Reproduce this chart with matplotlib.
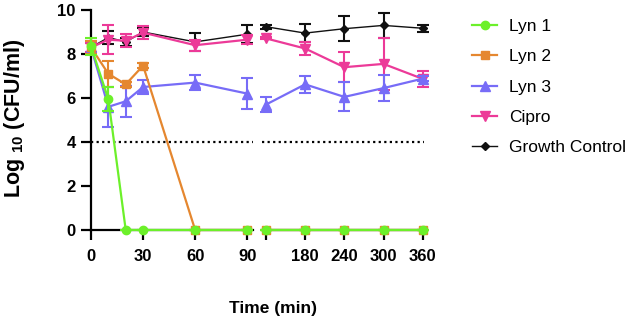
import numpy as np
import matplotlib
matplotlib.use("Agg")
import matplotlib.pyplot as plt

plt.rcParams['font.family'] = ['Liberation Sans', 'DejaVu Sans']
plt.rcParams['mathtext.fontset'] = 'custom'
plt.rcParams['mathtext.rm'] = 'Liberation Sans:bold'
plt.rcParams['mathtext.it'] = 'Liberation Sans:bold'
plt.rcParams['mathtext.bf'] = 'Liberation Sans:bold'

# time points (min), axis is broken between 90 and 120
time = np.array([0, 10, 20, 30, 60, 90, 120, 180, 240, 300, 360])

lyn1 = [8.35, 5.94, 0, 0, 0, 0, 0, 0, 0, 0, 0]
lyn1_err = [0.4, 0.55, 0, 0, 0, 0, 0, 0, 0, 0, 0]
lyn2 = [8.3, 7.1, 6.62, 7.47, 0, 0, 0, 0, 0, 0, 0]
lyn2_err = [0.3, 0.6, 0.1, 0.1, 0, 0, 0, 0, 0, 0, 0]
lyn3 = [8.3, 5.6, 5.85, 6.5, 6.7, 6.2, 5.7, 6.62, 6.05, 6.45, 6.88]
lyn3_err = [0.3, 0.9, 0.7, 0.3, 0.35, 0.7, 0.35, 0.4, 0.66, 0.58, 0.1]
cipro = [8.3, 8.65, 8.6, 8.97, 8.4, 8.65, 8.71, 8.25, 7.4, 7.55, 6.87]
cipro_err = [0.2, 0.65, 0.3, 0.3, 0.25, 0.2, 0.05, 0.28, 0.68, 1.2, 0.38]
growth = [8.3, 8.75, 8.55, 9.0, 8.55, 8.9, 9.24, 8.95, 9.15, 9.3, 9.17]
growth_err = [0.2, 0.3, 0.2, 0.2, 0.4, 0.4, 0.1, 0.4, 0.58, 0.56, 0.15]

mic_line = 4

left_ticks = [0, 30, 60, 90]
right_ticks = [120, 180, 240, 300, 360]
right_labels = ['', '180', '240', '300', '360']

series = [
    # label, values, errors, colour, marker, ms, lw, zorder
    ("Lyn 1", lyn1, lyn1_err, "#6CF02A", "o", 6, 1.6, 7),
    ("Lyn 2", lyn2, lyn2_err, "#E5872F", "s", 6, 1.6, 6),
    ("Lyn 3", lyn3, lyn3_err, "#776CF7", "^", 6.5, 1.6, 5),
    ("Cipro", cipro, cipro_err, "#EC3A98", "v", 6.5, 1.6, 4),
    ("Growth Control", growth, growth_err, "#111111", "D", 4.5, 1.0, 3),
]

fig = plt.figure(figsize=(6.33, 3.22), dpi=100)
ax1 = fig.add_axes([91 / 633, 1 - 230 / 322, 162 / 633, 220 / 322])
ax2 = fig.add_axes([262 / 633, 1 - 230 / 322, 162 / 633, 220 / 322])

left = time <= 90
right = time >= 120
handles = []
for ax, mask in ((ax1, left), (ax2, right)):
    for label, vals, errs, col, mk, ms, lw, z in series:
        vals = np.array(vals)[mask]
        errs = np.array(errs)[mask]
        t = time[mask]
        ax.errorbar(t, vals, yerr=errs, fmt='none', ecolor=col, elinewidth=1.5,
                    capsize=4, capthick=1.5, zorder=z, clip_on=False)
        ln, = ax.plot(t, vals, color=col, marker=mk, markersize=ms, lw=lw,
                      zorder=z + 0.5, clip_on=False, label=label)
        if ax is ax1:
            handles.append(ln)
    ax.axhline(mic_line, color='black', ls=(0, (1, 1.5)), lw=1.6, zorder=1)
    ax.set_ylim(0, 10)
    ax.spines['top'].set_visible(False)
    ax.spines['right'].set_visible(False)
    ax.spines['bottom'].set_linewidth(1.6)
    ax.spines['left'].set_linewidth(1.6)
    ax.tick_params(width=1.6, length=7, labelsize=12, pad=4)

ax1.set_xlim(0, 93.3)
ax1.set_xticks(left_ticks)
ax1.set_yticks(range(0, 11, 2))
ax1.tick_params(axis='x', pad=7)
for lbl in ax1.get_xticklabels() + ax1.get_yticklabels():
    lbl.set_fontweight('bold')

ax2.set_xlim(114, 362)
ax2.set_xticks(right_ticks)
ax2.set_xticklabels(right_labels)
ax2.tick_params(axis='x', pad=7)
ax2.spines['left'].set_visible(False)
ax2.set_yticks([])
for lbl in ax2.get_xticklabels():
    lbl.set_fontweight('bold')

fig.text(273 / 633, 1 - 308 / 322, "Time (min)", ha='center', va='center',
         fontsize=12.5, fontweight='bold')
fig.text(15 / 633, 1 - 118 / 322, r"Log $_{10}$ (CFU/ml)", rotation=90,
         ha='center', va='center', fontsize=15.5, fontweight='bold')

fig.legend(handles=handles, loc='upper left', bbox_to_anchor=(465 / 633, 1 - 12 / 322),
           frameon=False, fontsize=12.5, handlelength=1.45, handletextpad=0.7,
           labelspacing=0.87, borderaxespad=0)

fig.savefig("out.png", dpi=100)
